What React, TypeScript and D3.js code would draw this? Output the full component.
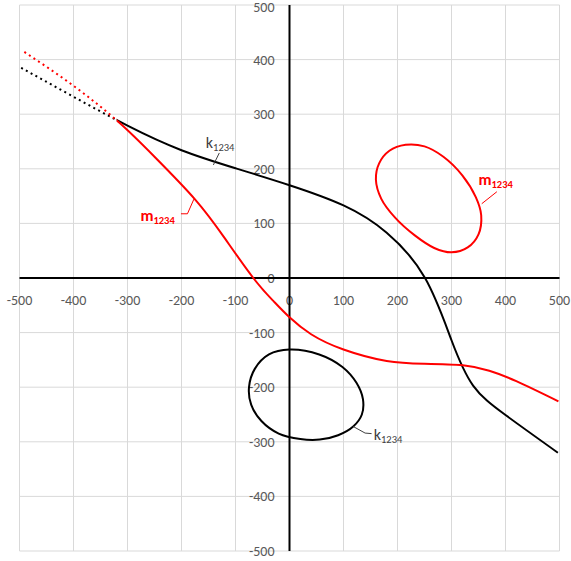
import React, { useRef, useEffect } from "react";
import * as d3 from "d3";

const xTicks = [-500, -400, -300, -200, -100, 0, 100, 200, 300, 400, 500];
const yTicks = [-500, -400, -300, -200, -100, 0, 100, 200, 300, 400, 500];

// open curve k (black)
const kX = [-497, -400, -300, -200, -100, 0, 100, 180, 251, 300, 340, 400, 497];
const kY = [385, 332, 279, 234, 201, 170, 133, 83, 0, -114, -197, -251, -320];

// open curve m (red)
const mX = [-491, -400, -317, -250, -175, -120, -67, -30, 0, 40, 100, 180, 250, 321, 370, 420, 498];
const mY = [414, 352, 286, 222, 144, 73, 0, -42, -72, -103, -131, -152, -157, -160, -170, -189, -226];

// closed loop k (black)
const kLoopX = [0, 55, 98, 124, 136, 134, 118, 90, 56, 20, -20, -52, -71, -75, -64, -38];
const kLoopY = [-131, -140, -163, -192, -222, -250, -272, -288, -296, -295, -285, -262, -232, -200, -166, -140];

// closed loop m (red)
const mLoopX = [160, 166, 185, 215, 250, 285, 320, 345, 355, 350, 330, 300, 268, 232, 196, 170];
const mLoopY = [180, 210, 233, 244, 241, 222, 188, 148, 115, 80, 56, 47, 55, 78, 110, 145];

const dottedUntil = -320;

const labels = [
  { name: "k", sub: "1234", color: "#404040", weight: "normal", tx: -155, ty: 238, lx: [-130, -141], ly: [229, 207] },
  { name: "m", sub: "1234", color: "#ff0000", weight: "bold", tx: -276, ty: 105, lx: [-201, -189, -177], ly: [117.6, 117.6, 144.5] },
  { name: "m", sub: "1234", color: "#ff0000", weight: "bold", tx: 350, ty: 171, lx: [356, 384], ly: [136, 158] },
  { name: "k", sub: "1234", color: "#404040", weight: "normal", tx: 156, ty: -296, lx: [118, 140, 152], ly: [-272, -284, -285] }
];

const font = "Carlito, Calibri, Lato, sans-serif";

const App = () => {
  const ref = useRef<SVGSVGElement>(null);

  useEffect(() => {
    const svg = d3.select(ref.current);
    svg.selectAll("*").remove();

    const x = d3.scaleLinear().domain([-500, 500]).range([19.5, 559.5]);
    const y = d3.scaleLinear().domain([-500, 500]).range([551, 5]);

    const defs = svg.append("defs");
    defs.append("clipPath").attr("id", "plot")
      .append("rect").attr("x", x(-500)).attr("y", y(500))
      .attr("width", x(500) - x(-500)).attr("height", y(-500) - y(500));
    defs.append("clipPath").attr("id", "solid")
      .append("rect").attr("x", x(dottedUntil)).attr("y", y(500))
      .attr("width", x(500) - x(dottedUntil)).attr("height", y(-500) - y(500));
    defs.append("clipPath").attr("id", "dotted")
      .append("rect").attr("x", x(-500)).attr("y", y(500))
      .attr("width", x(dottedUntil) - x(-500)).attr("height", y(-500) - y(500));

    // grid
    const grid = svg.append("g").attr("stroke", "#d9d9d9").attr("stroke-width", 1);
    grid.selectAll(".vx").data(xTicks).join("line")
      .attr("x1", d => x(d)).attr("x2", d => x(d))
      .attr("y1", y(500)).attr("y2", y(-500));
    grid.selectAll(".hy").data(yTicks).join("line")
      .attr("class", "hy")
      .attr("y1", d => y(d)).attr("y2", d => y(d))
      .attr("x1", x(-500)).attr("x2", x(500));

    // tick labels
    svg.append("g").selectAll("text").data(xTicks).join("text")
      .attr("x", d => x(d)).attr("y", y(0) + 27)
      .attr("text-anchor", "middle")
      .attr("font-family", font).attr("font-size", 14).attr("fill", "#595959")
      .text(d => d);
    svg.append("g").selectAll("text").data(yTicks).join("text")
      .attr("x", x(0) - 15).attr("y", d => Math.max(y(d) + 5, 12))
      .attr("text-anchor", "end")
      .attr("font-family", font).attr("font-size", 14).attr("fill", "#595959")
      .text(d => d);

    // axes
    svg.append("line").attr("x1", x(-500)).attr("x2", x(500))
      .attr("y1", y(0)).attr("y2", y(0)).attr("stroke", "#000").attr("stroke-width", 2);
    svg.append("line").attr("x1", x(0)).attr("x2", x(0))
      .attr("y1", y(500)).attr("y2", y(-500)).attr("stroke", "#000").attr("stroke-width", 2);

    const openLine = (xs: number[], ys: number[]) =>
      d3.line<number>()
        .x(i => x(xs[i]))
        .y(i => y(ys[i]))
        .curve(d3.curveNatural)(xs.map((_, i) => i));

    const closedLine = (xs: number[], ys: number[]) =>
      d3.line<number>()
        .x(i => x(xs[i]))
        .y(i => y(ys[i]))
        .curve(d3.curveCatmullRomClosed.alpha(0.5))(xs.map((_, i) => i));

    const series = [
      { xs: kX, ys: kY, color: "#000000" },
      { xs: mX, ys: mY, color: "#ff0000" }
    ];

    const plot = svg.append("g").attr("clip-path", "url(#plot)");

    series.forEach(s => {
      plot.append("g").attr("clip-path", "url(#dotted)")
        .append("path")
        .attr("d", openLine(s.xs, s.ys))
        .attr("fill", "none").attr("stroke", s.color).attr("stroke-width", 2)
        .attr("stroke-dasharray", "2 3.5");
      plot.append("g").attr("clip-path", "url(#solid)")
        .append("path")
        .attr("d", openLine(s.xs, s.ys))
        .attr("fill", "none").attr("stroke", s.color).attr("stroke-width", 2);
    });

    plot.append("path").attr("d", closedLine(kLoopX, kLoopY))
      .attr("fill", "none").attr("stroke", "#000000").attr("stroke-width", 2);
    plot.append("path").attr("d", closedLine(mLoopX, mLoopY))
      .attr("fill", "none").attr("stroke", "#ff0000").attr("stroke-width", 2);

    // annotations
    labels.forEach(l => {
      svg.append("path")
        .attr("d", d3.line<number>().x(i => x(l.lx[i])).y(i => y(l.ly[i]))(l.lx.map((_, i) => i)))
        .attr("fill", "none").attr("stroke", l.color).attr("stroke-width", 1);
      const t = svg.append("text")
        .attr("x", x(l.tx)).attr("y", y(l.ty))
        .attr("font-family", font).attr("font-weight", l.weight)
        .attr("font-size", 16).attr("fill", l.color);
      t.append("tspan").text(l.name);
      t.append("tspan").attr("font-size", 10.5).attr("dy", 3).text(l.sub);
    });
  }, []);

  return (
    <svg
      ref={ref}
      width={571}
      height={561}
      style={{ position: "absolute", left: 0, top: 0, background: "#fff" }}
    />
  );
};

export default App;
